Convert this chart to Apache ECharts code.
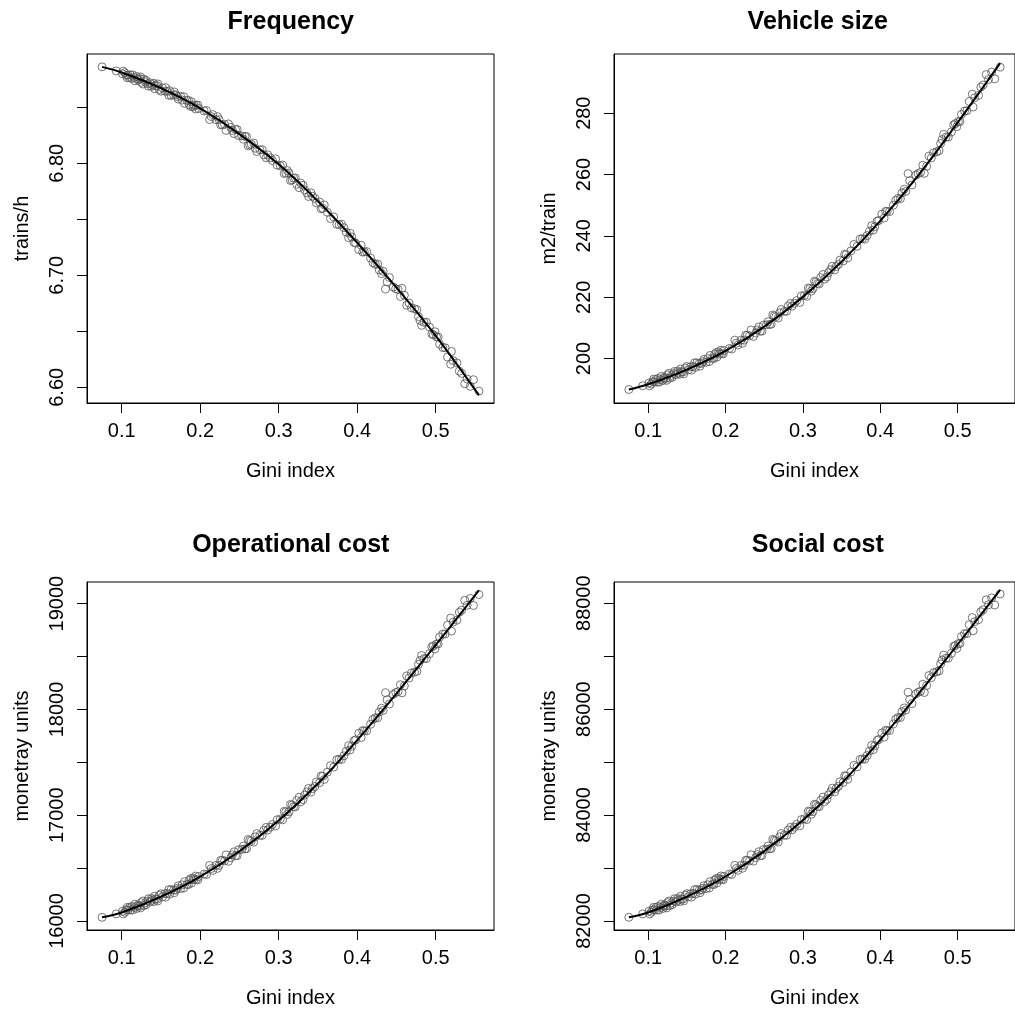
<!DOCTYPE html>
<html>
<head>
<meta charset="utf-8">
<script src="https://cdn.jsdelivr.net/npm/echarts@6/dist/echarts.min.js"></script>
<style>
html,body{margin:0;padding:0;background:#fff;overflow:hidden}
#chart{width:1015px;height:1009px}
</style>
</head>
<body>
<div id="chart"></div>
<script>
// ---------- data ----------
const giniX = [
0.075,0.093,0.101,0.104,0.106,0.108,0.111,0.113,0.116,0.119,
0.121,0.123,0.125,0.128,0.130,0.133,0.136,0.138,0.141,0.143,
0.146,0.148,0.152,0.155,0.158,0.161,0.163,0.166,0.169,0.172,
0.175,0.177,0.180,0.183,0.186,0.189,0.192,0.195,0.198,0.205,
0.212,0.216,0.220,0.224,0.228,0.233,0.236,0.241,0.245,0.249,
0.253,0.257,0.261,0.265,0.268,0.272,0.276,0.281,0.286,0.292,
0.296,0.302,0.307,0.311,0.315,0.319,0.323,0.328,0.333,0.338,
0.343,0.348,0.352,0.356,0.366,0.370,0.377,0.383,0.389,0.393,
0.398,0.402,0.405,0.409,0.417,0.423,0.428,0.433,0.436,0.438,
0.446,0.452,0.457,0.463,0.466,0.473,0.478,0.482,0.485,0.492,
0.497,0.501,0.505,0.515,0.519,0.520,0.522,0.533,0.537,0.540,
0.548,0.555,
0.102,0.107,0.110,0.114,0.117,0.120,0.124,0.127,0.131,0.134,
0.139,0.142,0.145,0.150,0.156,0.160,0.167,0.171,0.179,0.185,
0.188,0.191,0.194,0.197,
0.208,0.214,0.222,0.226,0.231,0.239,0.243,0.247,0.255,0.259,
0.263,0.270,0.279,0.284,0.289,0.298,
0.305,0.309,0.313,0.317,0.321,0.326,0.331,0.336,0.341,0.346,
0.354,0.358,0.362,0.374,0.380,0.386,0.391,0.396,
0.407,0.412,0.420,0.426,0.431,0.441,0.449,0.455,0.460,0.469,
0.476,0.480,0.488,0.495,0.499,
0.503,0.509,0.512,0.527,0.530,0.544];

const frequency = [
6.886,6.8824,6.8798,6.8808,6.8784,6.8788,6.8788,6.8756,6.8765,6.8775,
6.8742,6.8755,6.8722,6.875,6.8726,6.8709,6.8718,6.8686,6.8713,6.869,
6.8708,6.8658,6.8672,6.8643,6.8641,6.8648,6.8605,6.8612,6.8611,6.8573,
6.8598,6.8564,6.8535,6.856,6.8522,6.8548,6.8519,6.8517,6.8488,6.8467,
6.839,6.8434,6.8389,6.8389,6.8343,6.8293,6.8351,6.8292,6.8301,6.8247,
6.8244,6.824,6.8156,6.817,6.8181,6.8105,6.812,6.8075,6.8075,6.8024,
6.8039,6.7977,6.7908,6.7935,6.7846,6.7865,6.7811,6.7823,6.7763,6.7703,
6.7706,6.7646,6.7654,6.7598,6.7506,6.7521,6.7451,6.7425,6.7335,6.7342,
6.7287,6.7229,6.7268,6.7209,6.7154,6.7097,6.7048,6.7035,6.6877,6.6941,
6.6895,6.6873,6.6883,6.6733,6.6752,6.6701,6.6631,6.6553,6.658,6.6538,
6.6468,6.645,6.6385,6.627,6.6206,6.632,6.6239,6.6124,6.6032,6.6074,
6.6068,6.5966,
6.8822,6.8763,6.8764,6.8789,6.8735,6.8754,6.877,6.8707,6.8741,6.8688,
6.8701,6.8665,6.8693,6.8643,6.8675,6.8607,6.8636,6.8594,6.8593,6.8562,
6.8506,6.8504,6.8485,6.8519,
6.8471,6.8417,6.8416,6.8343,6.8347,6.832,6.8265,6.8301,6.8215,6.8238,
6.8163,6.8134,6.8121,6.8049,6.8049,6.7983,
6.7984,6.7913,6.7913,6.7851,6.7869,6.7782,6.7803,6.7734,6.7737,6.7686,
6.7594,6.7628,6.7562,6.7455,6.7456,6.7385,6.7375,6.7293,
6.7207,6.7212,6.7112,6.71,6.7015,6.698,6.688,6.6811,6.6822,6.6709,
6.6693,6.6596,6.6581,6.6476,6.6496,
6.6449,6.6355,6.6353,6.6218,6.6144,6.6009];

const vehicleSize = [
189.9,191.1,192.0,191.7,192.5,192.4,192.3,193.5,193.1,192.8,
193.9,193.5,194.7,193.6,194.5,195.1,194.7,195.9,194.9,195.7,
195.0,196.9,196.3,197.3,197.4,197.1,198.6,198.4,198.4,199.7,
198.8,200.0,201.0,200.1,201.4,200.5,201.5,201.6,202.6,203.3,
206.0,204.4,206.0,206.0,207.6,209.3,207.2,209.3,209.0,210.9,
211.0,211.1,214.2,213.6,213.2,216.0,215.4,217.1,217.1,218.9,
218.3,220.6,223.0,222.0,225.2,224.5,226.4,225.9,228.0,230.1,
230.0,232.1,231.8,233.9,237.2,236.6,239.1,240.1,243.3,243.0,
245.0,247.1,245.8,248.0,250.0,252.2,254.0,254.5,260.3,258.0,
259.8,260.7,260.4,266.0,265.4,267.4,270.1,273.1,272.2,273.9,
276.6,277.3,279.6,283.8,286.2,282.0,285.0,289.2,292.6,291.0,
291.2,295.0,
191.1,193.3,193.2,192.3,194.2,193.5,192.9,195.2,193.9,195.8,
195.3,196.6,195.6,197.4,196.2,198.6,197.5,199.0,199.0,200.0,
202.0,202.1,202.7,201.5,
203.1,205.0,205.0,207.6,207.4,208.3,210.3,208.9,212.0,211.2,
213.9,214.9,215.4,218.0,218.0,220.4,
220.3,222.8,222.8,225.0,224.3,227.4,226.6,229.0,228.9,230.7,
234.0,232.8,235.1,239.0,238.9,241.5,241.9,244.8,
248.0,247.9,251.6,252.1,255.2,256.6,260.3,263.0,262.7,267.1,
267.8,271.4,272.2,276.2,275.6,
277.3,280.7,280.8,285.8,288.5,293.4];

const operationalCost = [
16035,16067,16092,16083,16107,16104,16104,16138,16128,16118,
16152,16140,16174,16145,16170,16188,16179,16213,16184,16209,
16190,16243,16229,16258,16260,16253,16298,16291,16293,16333,
16306,16342,16372,16346,16386,16359,16390,16392,16421,16444,
16525,16478,16525,16526,16573,16625,16565,16626,16617,16674,
16677,16682,16771,16756,16745,16826,16811,16859,16860,16913,
16899,16964,17037,17008,17102,17083,17139,17127,17190,17254,
17251,17314,17307,17368,17469,17455,17530,17562,17658,17653,
17713,17775,17735,17798,17860,17921,17975,17991,18159,18091,
18143,18168,18157,18317,18297,18353,18427,18510,18481,18527,
18601,18619,18685,18797,18864,18740,18825,18938,19032,18985,
18983,19087,
16067,16129,16129,16103,16159,16140,16124,16189,16154,16210,
16197,16234,16206,16258,16225,16296,16267,16310,16312,16344,
16402,16405,16425,16390,
16439,16496,16498,16573,16569,16598,16654,16618,16708,16684,
16763,16795,16809,16885,16886,16957,
16957,17032,17032,17097,17078,17170,17148,17221,17218,17272,
17371,17338,17407,17525,17527,17604,17617,17705,
17800,17797,17905,17920,18011,18052,18160,18234,18223,18344,
18361,18464,18481,18592,18573,
18619,18713,18713,18844,18919,19050];

const socialCost = [
82070,82134,82184,82166,82214,82208,82208,82276,82256,82236,
82304,82280,82348,82290,82340,82376,82358,82426,82368,82418,
82380,82486,82458,82516,82520,82506,82596,82582,82586,82666,
82612,82684,82744,82692,82772,82718,82780,82784,82842,82888,
83050,82956,83050,83052,83146,83250,83130,83252,83234,83348,
83354,83364,83542,83512,83490,83652,83622,83718,83720,83826,
83798,83928,84074,84016,84204,84166,84278,84254,84380,84508,
84502,84628,84614,84736,84938,84910,85060,85124,85316,85306,
85426,85550,85470,85596,85720,85842,85950,85982,86318,86182,
86286,86336,86314,86634,86594,86706,86854,87020,86962,87054,
87202,87238,87370,87594,87728,87480,87650,87876,88064,87970,
87966,88174,
82134,82258,82258,82206,82318,82280,82248,82378,82308,82420,
82394,82468,82412,82516,82450,82592,82534,82620,82624,82688,
82804,82810,82850,82780,
82878,82992,82996,83146,83138,83196,83308,83236,83416,83368,
83526,83590,83618,83770,83772,83914,
83914,84064,84064,84194,84156,84340,84296,84442,84436,84544,
84742,84676,84814,85050,85054,85208,85234,85410,
85600,85594,85810,85840,86022,86104,86320,86468,86446,86688,
86722,86928,86962,87184,87146,
87238,87426,87426,87688,87838,88100];

// fitted curves, read at these Gini values
const fitX = [0.075,0.1,0.15,0.2,0.25,0.3,0.35,0.4,0.45,0.5,0.555];
const fitFrequency = [6.886,6.881,6.867,6.849,6.826,6.799,6.766,6.729,6.689,6.646,6.593];
const fitVehicleSize = [189.9,191.6,196.4,202.5,210.4,220.1,231.6,244.9,260.0,276.9,296.3];
const fitOperationalCost = [16035,16080,16230,16420,16660,16950,17300,17710,18150,18610,19125];
const fitSocialCost = [82070,82160,82460,82840,83320,83900,84600,85420,86300,87220,88250];

// ticks and labels
const giniTicks = [0.1,0.2,0.3,0.4,0.5];
const freqTicks = [6.60,6.65,6.70,6.75,6.80,6.85];
const freqLabels = [6.60,6.70,6.80];
const vehTicks = [200,220,240,260,280];
const vehLabels = [200,220,240,260,280];
const opTicks = [16000,16500,17000,17500,18000,18500,19000];
const opLabels = [16000,17000,18000,19000];
const socTicks = [82000,83000,84000,85000,86000,87000,88000];
const socLabels = [82000,84000,86000,88000];

const titles = ['Frequency','Vehicle size','Operational cost','Social cost'];
const yNames = ['trains/h','m2/train','monetray units','monetray units'];

// ---------- chart ----------
const FONT = '"Liberation Sans", Arial, Helvetica, sans-serif';
const seriesY = [frequency, vehicleSize, operationalCost, socialCost];
const fitY = [fitFrequency, fitVehicleSize, fitOperationalCost, fitSocialCost];
const yTicks = [freqTicks, vehTicks, opTicks, socTicks];
const yLabels = [freqLabels, vehLabels, opLabels, socLabels];
const yRange = [[6.586,6.8975],[185.5,299.3],[15915,19205],[81830,88400]];
const yFmt = [v => Number(v).toFixed(2), v => String(v), v => String(v), v => String(v)];

const layout = [
  {left:87, top:54, width:407, height:349, titleY:22.5},
  {left:614, top:54, width:407, height:349, titleY:22.5},
  {left:87, top:582, width:407, height:348, titleY:545},
  {left:614, top:582, width:407, height:348, titleY:545}
];

const grids = [], xAxes = [], yAxes = [], series = [], graphics = [];
for (let i = 0; i < 4; i++) {
  const L = layout[i];
  grids.push({left:L.left, top:L.top, width:L.width, height:L.height, show:true,
    borderColor:'#000', borderWidth:1, backgroundColor:'rgba(0,0,0,0)', containLabel:false});
  xAxes.push({
    gridIndex:i, type:'value', min:0.0558, max:0.5742,
    axisLine:{show:true, onZero:false, lineStyle:{color:'#000', width:1}},
    axisTick:{show:true, inside:false, length:10, lineStyle:{color:'#000', width:1}, customValues:giniTicks},
    axisLabel:{show:true, customValues:giniTicks, margin:18, fontSize:20, color:'#000', fontFamily:FONT,
      formatter: v => String(v)},
    splitLine:{show:false},
    name:'Gini index', nameLocation:'middle', nameGap:58,
    nameTextStyle:{fontSize:20, color:'#000', fontFamily:FONT}
  });
  yAxes.push({
    gridIndex:i, type:'value', min:yRange[i][0], max:yRange[i][1],
    axisLine:{show:true, onZero:false, lineStyle:{color:'#000', width:1}},
    axisTick:{show:true, inside:false, length:10, lineStyle:{color:'#000', width:1}, customValues:yTicks[i]},
    axisLabel:{show:true, customValues:yLabels[i], rotate:90, margin:20, fontSize:20, color:'#000', fontFamily:FONT,
      formatter: yFmt[i]},
    splitLine:{show:false},
    name:yNames[i], nameLocation:'middle', nameGap:55,
    nameTextStyle:{fontSize:20, color:'#000', fontFamily:FONT}
  });
  series.push({
    type:'scatter', xAxisIndex:i, yAxisIndex:i, silent:true, z:2,
    symbol:'circle', symbolSize:8,
    itemStyle:{color:'rgba(0,0,0,0)', borderColor:'#555', borderWidth:1},
    data: giniX.map((x,k) => [x, seriesY[i][k]])
  });
  series.push({
    type:'line', xAxisIndex:i, yAxisIndex:i, silent:true, z:3,
    showSymbol:false, symbol:'none', smooth:0.4,
    lineStyle:{color:'#000', width:2},
    data: fitX.map((x,k) => [x, fitY[i][k]])
  });
  graphics.push({
    type:'text', x: L.left + 203.8, y: L.titleY,
    style:{text:titles[i], font:'bold 25px ' + FONT, fill:'#000',
      align:'center', textAlign:'center', verticalAlign:'middle', textVerticalAlign:'middle'}
  });
}

const chart = echarts.init(document.getElementById('chart'), null, {renderer:'canvas'});
chart.setOption({
  animation:false,
  backgroundColor:'#fff',
  grid:grids, xAxis:xAxes, yAxis:yAxes, series:series, graphic:graphics
});
</script>
</body>
</html>
